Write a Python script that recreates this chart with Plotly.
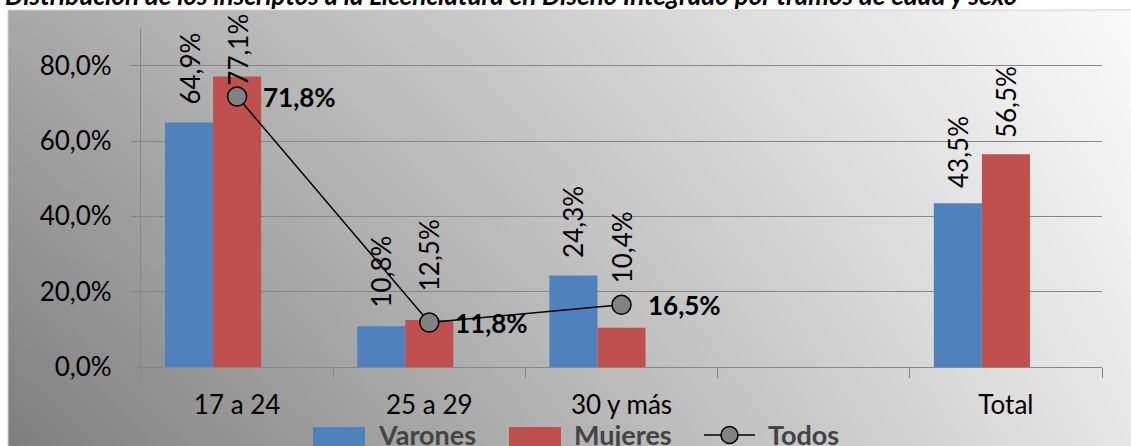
import base64, struct, zlib
import plotly.graph_objects as go

# ---------------- data ----------------
categories = ["17 a 24", "25 a 29", "30 y más", " ", "Total"]
varones = [64.9, 10.8, 24.3, None, 43.5]
mujeres = [77.1, 12.5, 10.4, None, 56.5]
todos_cats = ["17 a 24", "25 a 29", "30 y más"]
todos = [71.8, 11.8, 16.5]
series_names = ["Varones", "Mujeres", "Todos"]
title_text = "Distribución de los inscriptos a la Licenciatura en Diseño Integrado por tramos de edad y sexo"
y_ticks = [0, 20, 40, 60, 80]

# ---------------- geometry / style ----------------
W, H = 1131, 446
ML, MR, MT, MB = 141, 29, 28, 79
PW, PH = W - ML - MR, H - MT - MB
FONT = "Lato"
BLUE, RED = "#4F81BD", "#C0504D"
GRID = "#878787"
LEG_TXT = "#444444"


def px_x(p):
    return (p - ML) / PW


def px_y(p):
    return (H - MB - p) / PH


def fmt(v):
    return f"{v:.1f}".replace(".", ",") + "%"


# gradient background (png made in pure python)
def gradient_png(w, h):
    rows = []
    for j in range(h):
        v = 1 - j / (h - 1)  # 1 at top, 0 at bottom
        row = bytearray([0])
        for i in range(w):
            u = i / (w - 1)
            c = 127 + 103 * u + 41 * v - 21 * u * v
            row.append(max(0, min(255, int(round(c)))))
        rows.append(bytes(row))
    raw = b"".join(rows)

    def chunk(tag, data):
        return (struct.pack(">I", len(data)) + tag + data +
                struct.pack(">I", zlib.crc32(tag + data) & 0xffffffff))

    png = (b"\x89PNG\r\n\x1a\n" +
           chunk(b"IHDR", struct.pack(">IIBBBBB", w, h, 8, 0, 0, 0, 0)) +
           chunk(b"IDAT", zlib.compress(raw, 9)) + chunk(b"IEND", b""))
    return "data:image/png;base64," + base64.b64encode(png).decode()


fig = go.Figure()
fig.add_trace(go.Bar(x=categories, y=varones, name=series_names[0],
                     marker=dict(color=BLUE, line=dict(width=0)),
                     width=0.25, offset=-0.375, showlegend=False))
fig.add_trace(go.Bar(x=categories, y=mujeres, name=series_names[1],
                     marker=dict(color=RED, line=dict(width=0)),
                     width=0.25, offset=-0.125, showlegend=False))
fig.add_trace(go.Scatter(x=todos_cats, y=todos, name=series_names[2],
                         mode="lines+markers",
                         line=dict(color="black", width=1.5),
                         marker=dict(size=19, color="#828282",
                                     line=dict(color="black", width=1.5)),
                         showlegend=False, cliponaxis=False))

annotations = []
# bar value labels (rotated)
gap_v = [16, 17, 16, None, 13]
gap_m = [-11, 27, 42, None, 14]
for i, (v, m) in enumerate(zip(varones, mujeres)):
    for val, dx, g in ((v, -0.25, gap_v[i]), (m, 0.0, gap_m[i])):
        if val is None:
            continue
        annotations.append(dict(x=i + dx, y=val, xref="x", yref="y",
                                text=fmt(val), showarrow=False, textangle=-90,
                                xanchor="center", yanchor="bottom", yshift=g,
                                font=dict(family=FONT, size=26, color="black")))
# todos labels
for c, v in zip(todos_cats, todos):
    annotations.append(dict(x=categories.index(c), y=v, xref="x", yref="y",
                            text=fmt(v), showarrow=False, xanchor="left",
                            yanchor="middle", xshift=24,
                            font=dict(family=FONT, size=26, color="black",
                                      weight="bold")))
# title (partially cut at top as in original)
annotations.append(dict(x=px_x(3), y=px_y(13), xref="paper", yref="paper",
                        text=title_text, showarrow=False, xanchor="left",
                        yanchor="bottom",
                        font=dict(family=FONT, size=26, color="black",
                                  weight="bold", style="italic")))

# custom legend
shapes = []
leg_y_top, leg_y_bot, leg_mid = 427, 447, 435
leg_items = [(313, 365, 376, BLUE), (509, 561, 572, RED)]
for (x0, x1, xt, col), nm in zip(leg_items, series_names[:2]):
    shapes.append(dict(type="rect", xref="paper", yref="paper",
                       x0=px_x(x0), x1=px_x(x1), y0=px_y(leg_y_bot), y1=px_y(leg_y_top),
                       fillcolor=col, line=dict(width=0)))
    annotations.append(dict(x=px_x(xt), y=px_y(434), xref="paper", yref="paper",
                            text=nm, showarrow=False, xanchor="left", yanchor="middle",
                            font=dict(family=FONT, size=27, color=LEG_TXT, weight="bold")))
shapes.append(dict(type="line", xref="paper", yref="paper",
                   x0=px_x(704), x1=px_x(755), y0=px_y(leg_mid), y1=px_y(leg_mid),
                   line=dict(color="black", width=1.5)))
shapes.append(dict(type="circle", xref="paper", yref="paper",
                   x0=px_x(721), x1=px_x(738), y0=px_y(leg_mid + 8.5), y1=px_y(leg_mid - 8.5),
                   fillcolor="#828282", line=dict(color="black", width=1.5)))
annotations.append(dict(x=px_x(766), y=px_y(434), xref="paper", yref="paper",
                        text=series_names[2], showarrow=False, xanchor="left", yanchor="middle",
                        font=dict(family=FONT, size=27, color=LEG_TXT, weight="bold")))
# frame border
shapes.append(dict(type="rect", xref="paper", yref="paper", layer="below",
                   x0=px_x(8), x1=px_x(1140), y0=px_y(460), y1=px_y(10),
                   line=dict(color="#d0d0d0", width=1)))

fig.update_layout(
    width=W, height=H, autosize=False,
    margin=dict(l=ML, r=MR, t=MT, b=MB, pad=0),
    paper_bgcolor="white", plot_bgcolor="rgba(0,0,0,0)",
    separators=",.",
    barmode="overlay",
    font=dict(family=FONT, size=26, color="black"),
    annotations=annotations, shapes=shapes,
    images=[dict(source=gradient_png(281, 109), xref="paper", yref="paper",
                 x=px_x(8), y=px_y(10), sizex=(W - 8) / PW, sizey=(H - 10) / PH,
                 xanchor="left", yanchor="top", sizing="stretch", layer="below")],
    xaxis=dict(type="category", categoryorder="array", categoryarray=categories,
               range=[-0.5, 4.5], tickson="boundaries", ticks="outside",
               ticklen=10, tickwidth=1.25, tickcolor=GRID,
               showline=True, linecolor=GRID, linewidth=1.25, showgrid=False,
               tickfont=dict(family=FONT, size=26, color="black"),
               ticklabelstandoff=15, fixedrange=True),
    yaxis=dict(range=[0, 90], tickvals=y_ticks, ticktext=[fmt(t) for t in y_ticks],
               showgrid=True, gridcolor=GRID, gridwidth=1.25, zeroline=False,
               showline=True, linecolor=GRID, linewidth=1.25,
               ticks="outside", ticklen=9, tickwidth=1.25, tickcolor=GRID,
               tickfont=dict(family=FONT, size=26, color="black"),
               ticklabelstandoff=14, fixedrange=True),
)

fig.write_html("out.html", config={"displayModeBar": False},
               post_script="document.body.style.margin='0px';document.body.style.overflow='hidden';")
